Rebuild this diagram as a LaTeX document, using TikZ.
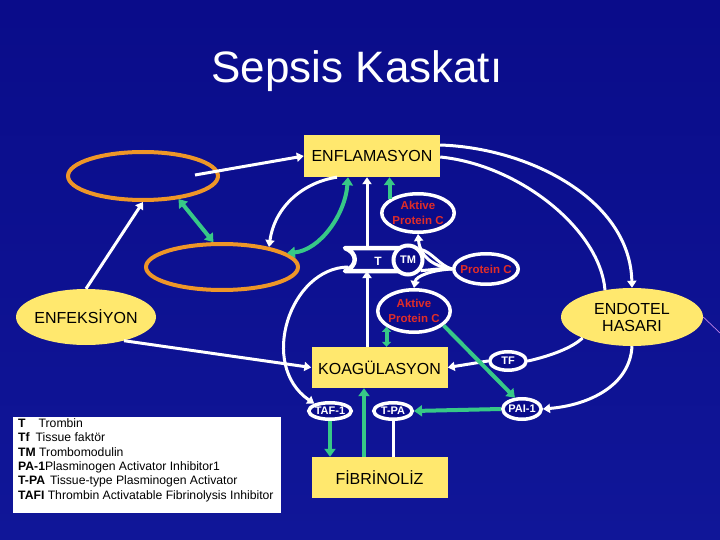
\documentclass[tikz,border=0pt]{standalone}
\usepackage{fontspec}
\setmainfont{Liberation Sans}
\usetikzlibrary{shapes.geometric,arrows.meta}
\definecolor{bgblue}{RGB}{10,12,138}
\definecolor{bgblue2}{RGB}{16,22,152}
\definecolor{myyellow}{RGB}{255,232,110}
\definecolor{myorange}{RGB}{238,150,40}
\definecolor{mygreen}{RGB}{55,200,135}
\definecolor{myred}{RGB}{225,45,40}
\definecolor{pinkline}{RGB}{190,130,230}
\tikzset{
  wline/.style={draw=white, line width=3pt},
  warrow/.style={wline, -{Triangle[width=9pt,length=7pt]}},
  gline/.style={draw=mygreen, line width=4pt},
  garrow/.style={gline, -{Triangle[width=11pt,length=8pt]}},
  gboth/.style={gline, {Triangle[width=11pt,length=8pt]}-{Triangle[width=11pt,length=8pt]}},
  gboths/.style={gline, {Triangle[width=9pt,length=5pt]}-{Triangle[width=9pt,length=5pt]}},
  ybox/.style={rectangle, fill=myyellow, minimum width=136pt, minimum height=41pt, inner sep=0pt, text=black, font=\fontsize{16}{19}\selectfont},
  yell/.style={ellipse, fill=myyellow, inner sep=0pt, text=black, align=center, font=\fontsize{16}{17}\selectfont},
  oell/.style={ellipse, draw=myorange, line width=4pt, inner sep=0pt},
  well/.style={ellipse, draw=white, line width=3.5pt, fill=bgblue, inner sep=0pt},
  redtxt/.style={text=myred, align=center, font=\bfseries\fontsize{11.5}{15}\selectfont},
  wtxt/.style={text=white, font=\bfseries\fontsize{11}{13}\selectfont},
  legtxt/.style={anchor=base west, inner sep=0pt, text=black, font=\fontsize{12.2}{14}\selectfont},
}
\begin{document}
\begin{tikzpicture}[x=1pt,y=-1pt]
\shade[top color=bgblue, bottom color=bgblue2] (0,0) rectangle (720,540);
\useasboundingbox (0,0) rectangle (720,540);

% title
\node[font=\fontsize{44}{50}\selectfont, text=white, anchor=base, inner sep=0pt] (title) at (357,83) {Sepsis Kaskatı};

% boxes
\node[ybox, minimum height=42pt] (enfl) at (372,156) {ENFLAMASYON};
\node[ybox] (koag) at (379.5,367.5) {KOAGÜLASYON};
\node[ybox] (fibr) at (379.5,477.5) {FİBRİNOLİZ};

% orange ellipses
\node[oell, minimum width=150pt, minimum height=48pt] (ell1) at (143,176) {};
\node[oell, minimum width=152pt, minimum height=46pt] (ell2) at (222,267) {};

% yellow ellipses
\node[yell, minimum width=140pt, minimum height=56pt, inner xsep=-4pt] (enfek) at (86,317) {ENFEKSİYON};
\node[yell, minimum width=142pt, minimum height=58pt] (endo) at (632,317) {ENDOTEL\\HASARI};

% protein C nodes
\node[well, redtxt, minimum width=72.5pt, minimum height=38.5pt] (apc1) at (418,213) {Aktive\\Protein C};
\node[well, redtxt, minimum width=64.5pt, minimum height=30.5pt, inner xsep=-4pt] (pc) at (486,269) {Protein C};
\node[well, redtxt, minimum width=72.5pt, minimum height=42.5pt] (apc2) at (414,311) {Aktive\\Protein C};

% T / TM complex
\draw[wline, line width=4.5pt, line join=round] (403,248) -- (345,248) .. controls (358,253) and (358,266) .. (345,271) -- (403,271);
\node[text=white, font=\bfseries\fontsize{12}{14}\selectfont] (tt) at (378,261) {T};
\node[circle, draw=white, line width=4pt, fill=bgblue, minimum size=29pt, inner sep=0pt, wtxt] (tm) at (408,260) {TM};
\coordinate (ttop) at (367,248);
\coordinate (tbot) at (367,271);
\coordinate (tleft) at (348,267);

% small ellipses
\node[well, wtxt, minimum width=42.5pt, minimum height=16.5pt, inner xsep=-2pt] (taf) at (330,411) {TAF-1};
\node[well, wtxt, minimum width=38.5pt, minimum height=16.5pt] (tpa) at (393,411) {T-PA};
\node[well, wtxt, minimum width=38.5pt, minimum height=20.5pt, inner xsep=-2pt] (pai) at (522,409) {PAI-1};
\node[well, wtxt, minimum width=36.5pt, minimum height=18.5pt] (tf) at (508,361) {TF};

% legend
\node[fill=white, minimum width=268pt, minimum height=96pt, anchor=north west, inner sep=0pt] (leg) at (13,417) {};
\node[legtxt] (l1) at (18,427) {\textbf{T}\hspace{13pt}Trombin};
\node[legtxt] (l2) at (18,441) {\textbf{Tf}\hspace{6pt}Tissue faktör};
\node[legtxt] (l3) at (18,456) {\textbf{TM} Trombomodulin};
\node[legtxt] (l4) at (18,470) {\textbf{PA-1}Plasminogen Activator Inhibitor1};
\node[legtxt] (l5) at (18,484) {\textbf{T-PA}\hspace{5pt}Tissue-type Plasminogen Activator};
\node[legtxt] (l6) at (18,499) {\textbf{TAFI} Thrombin Activatable Fibrinolysis Inhibitor};

% connectors: left side
\coordinate (a1) at (195,175);
\draw[warrow] (a1) -- (enfl.west);
\draw[warrow] (enfek.north) -- (ell1.south);
\draw[gboth] (ell1.-33) -- (ell2.109);
\draw[warrow] ([xshift=-35pt]enfl.south) .. controls (305,182) and (275,205) .. (ell2.23);
\draw[gboth] (ell2.12) .. controls (320,250) and (345,215) .. ([xshift=-24pt]enfl.south);
\draw[warrow] (enfek.-32) -- (koag.west);
\draw[warrow] (tleft) .. controls (290,268) and (258,365) .. (taf.155);

% centre column
\draw[warrow] (ttop) -- (ttop |- enfl.south);
\draw[warrow] (koag.north -| tbot) -- (tbot);
\draw[garrow] (apc1.154) -- (apc1.154 |- enfl.south);
\draw[gboths] (apc2.-150) -- (apc2.-150 |- koag.north);

% protein C links
\draw[wline] (tm.40) .. controls (432,252) and (440,266) .. (pc.west);
\draw[wline] (tm.-40) .. controls (432,270) and (440,268) .. (pc.west);
\draw[warrow] (pc.west) .. controls (432,266) and (420,256) .. (apc1.south);
\draw[warrow] (pc.west) .. controls (432,270) and (416,276) .. (apc2.north);

% right side
\draw[warrow] ([yshift=11pt]enfl.east) .. controls (530,148) and (630,200) .. (endo.north);
\draw[wline] ([yshift=-1pt]enfl.east) .. controls (520,165) and (600,230) .. (endo.135);
\draw[wline] (endo.-157) .. controls (572,348) and (550,356) .. (tf.east);
\draw[warrow] (tf.west) -- (koag.east);
\draw[warrow] (endo.south) .. controls (630,385) and (590,405) .. (pai.east);
\draw[garrow] (apc2.-26) -- (pai.122);
\draw[garrow] (pai.west) -- (tpa.east);

% bottom
\draw[garrow] (taf.south) -- (taf.south |- fibr.north);
\draw[wline] (tpa.south) -- (tpa.south |- fibr.north);
\draw[garrow] ([xshift=-15.5pt]fibr.north) -- ([xshift=-15.5pt]koag.south);

% faint line at right
\coordinate (pk) at (720,333);
\draw[pinkline, line width=0.7pt] (endo.east) -- (pk);
\end{tikzpicture}
\end{document}
